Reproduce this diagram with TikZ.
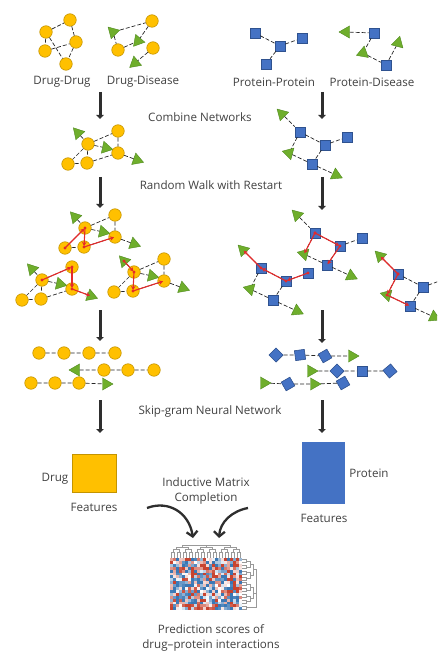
\documentclass[tikz,border=0pt]{standalone}
\usepackage{fontspec}
\setmainfont{Open Sans}
\usetikzlibrary{shapes.geometric,arrows.meta}
\definecolor{dyellow}{HTML}{FFC000}
\definecolor{dyellowd}{HTML}{C49400}
\definecolor{pblue}{HTML}{4472C4}
\definecolor{pblued}{HTML}{2F528F}
\definecolor{dgreen}{HTML}{6FAE2C}
\definecolor{dgreend}{HTML}{4F8A1E}
\definecolor{wred}{HTML}{E42A2A}
\definecolor{darkg}{HTML}{2E2E2E}
\definecolor{txt}{HTML}{404040}
\definecolor{hred}{HTML}{C8432F}
\definecolor{hblue}{HTML}{3A78B5}
\tikzset{
 dc/.style={circle, fill=dyellow, draw=dyellowd, line width=0.6pt, minimum size=12.5pt, inner sep=0},
 ps/.style={rectangle, fill=pblue, draw=pblued, line width=0.6pt, minimum size=10pt, inner sep=0},
 gt/.style={regular polygon, regular polygon sides=3, fill=dgreen, draw=dgreend, line width=0.4pt, minimum size=14pt, inner sep=0},
 lnk/.style={draw=black!85, line width=0.7pt, dash pattern=on 4pt off 2pt},
 walk/.style={draw=wred, line width=1.1pt, shorten >=1pt, -{Stealth[length=4pt,width=4.5pt]}},
 wdot/.style={fill=wred},
 bigarrow/.style={draw=darkg, line width=3pt, -{Triangle[length=4pt,width=7.5pt]}},
 curvarrow/.style={draw=darkg, line width=2.3pt, -{Straight Barb[length=5pt,width=11pt]}},
 lbl/.style={text=txt, font=\fontsize{11.6}{13}\selectfont, inner sep=0},
 dendro/.style={draw=black!40, line width=0.4pt},
}
\newcommand\dnet[3]{%
\begin{scope}[shift={(#2,#3)}]
 \node[gt,rotate=42] (#1t1) at (-10,-11) {};
 \node[dc] (#1c1) at (30,-13) {};
 \node[dc] (#1a) at (0,0) {};
 \node[gt,rotate=-102] (#1t2) at (18,4) {};
 \node[dc] (#1c2) at (30,9) {};
 \node[gt,rotate=-110] (#1t3) at (49,16) {};
 \node[dc] (#1c3) at (-20,20) {};
 \node[dc] (#1c4) at (-1,19) {};
 \draw[lnk] (#1t1)--(#1a) (#1a)--(#1c1) (#1c1)--(#1c2) (#1a)--(#1t2) (#1a)--(#1c3) (#1a)--(#1c4) (#1c3)--(#1c4) (#1c4)--(#1c2) (#1c2)--(#1t3);
\end{scope}}
\newcommand\pnet[3]{%
\begin{scope}[shift={(#2,#3)}]
 \node[gt,rotate=45] (#1t1) at (-18,-18) {};
 \node[ps] (#1s1) at (0,0) {};
 \node[ps] (#1s2) at (25,13) {};
 \node[ps] (#1s3) at (47,5) {};
 \node[gt,rotate=75] (#1t2) at (-11,21) {};
 \node[ps] (#1s4) at (12,32) {};
 \node[gt,rotate=-115] (#1t3) at (36,43) {};
 \draw[lnk] (#1t1)--(#1s1) (#1s1)--(#1s2) (#1s2)--(#1s3) (#1s1)--(#1t2) (#1s2)--(#1s4) (#1t2)--(#1s4) (#1s4)--(#1t3);
\end{scope}}
\newcommand\wstep[2]{\fill[wdot] (#1.center) circle (1.6pt); \draw[walk] (#1.center) -- (#2.center);}
\begin{document}
\begin{tikzpicture}[x=1pt,y=-1pt]
\useasboundingbox (0,0) rectangle (437,652);
\clip (0,0) rectangle (437,652);
% ---------- top: drug-drug
\node[dc] (dd1) at (70,20) {};
\node[dc] (dd2) at (46,32) {};
\node[dc] (dd3) at (76,42) {};
\node[dc] (dd4) at (45,51) {};
\node[dc] (dd5) at (66,64) {};
\draw[lnk] (dd2)--(dd1) (dd1)--(dd3) (dd2)--(dd4) (dd4)--(dd3) (dd2)--(dd5) (dd3)--(dd5);
% drug-disease
\node[gt,rotate=45] (de1) at (113,32) {};
\node[dc] (de2) at (152,21) {};
\node[gt,rotate=-100] (de3) at (138,41) {};
\node[dc] (de4) at (118,50) {};
\node[dc] (de5) at (153,48) {};
\node[gt,rotate=130] (de6) at (135,63) {};
\draw[lnk] (de1)--(de2) (de2)--(de3) (de1)--(de4) (de4)--(de3) (de5)--(de6);
% protein-protein
\node[ps] (pp1) at (255,33) {};
\node[ps] (pp2) at (280,46) {};
\node[ps] (pp3) at (302,38) {};
\node[ps] (pp4) at (266,64) {};
\draw[lnk] (pp1)--(pp2) (pp2)--(pp3) (pp2)--(pp4);
% protein-disease
\node[gt,rotate=90] (pd1) at (346,32) {};
\node[ps] (pd2) at (374,33) {};
\node[gt,rotate=110] (pd3) at (363,53) {};
\node[ps] (pd4) at (386,65) {};
\node[gt,rotate=-15] (pd5) at (398,43) {};
\draw[lnk] (pd1)--(pd2) (pd2)--(pd3) (pd3)--(pd4) (pd4)--(pd5);
% labels
\node[lbl] (l1) at (62,82) {Drug-Drug};
\node[lbl] (l2) at (143,82) {Drug-Disease};
\node[lbl] (l3) at (274,82) {Protein-Protein};
\node[lbl] (l4) at (372,82) {Protein-Disease};
\node[lbl] (l5) at (200,117) {Combine Networks};
\node[lbl] (l6) at (211,185) {Random Walk with Restart};
\node[lbl] (l7) at (210,411) {Skip-gram Neural Network};
% big arrows
\coordinate (a1s) at (100,92); \coordinate (a1e) at (100,119);
\coordinate (a2s) at (100,177); \coordinate (a2e) at (100,208);
\coordinate (a3s) at (100,310); \coordinate (a3e) at (100,341);
\coordinate (a4s) at (100,400); \coordinate (a4e) at (100,433);
\coordinate (b1s) at (322,92); \coordinate (b1e) at (322,119);
\coordinate (b2s) at (322,177); \coordinate (b2e) at (322,210);
\coordinate (b3s) at (322,310); \coordinate (b3e) at (322,343);
\coordinate (b4s) at (322,400); \coordinate (b4e) at (322,433);
\foreach \p in {a1,a2,a3,a4,b1,b2,b3,b4} \draw[bigarrow] (\p s) -- (\p e);
% combined networks
\dnet{cd}{88}{144}
\pnet{cp}{300}{132}
% random walks, drug
\dnet{ra}{85}{228}
\dnet{rb}{42}{280}
\dnet{rc}{134}{272}
\wstep{rac3}{raa}\wstep{raa}{rac4}\wstep{rac4}{rac2}
\wstep{rba}{rbc1}\wstep{rbc1}{rbc2}\wstep{rbc2}{rbt3}
\wstep{rct1}{rca}\wstep{rca}{rcc4}\wstep{rcc4}{rcc2}
% random walks, protein
\pnet{qa}{315}{233}
\pnet{qb}{261}{268}
\pnet{qc}{398}{274}
\wstep{qas1}{qas2}\wstep{qas2}{qas4}\wstep{qas1}{qat2}
\wstep{qbs3}{qbs2}\wstep{qbs2}{qbs1}\wstep{qbs1}{qbt1}
\wstep{qcs1}{qct1}\wstep{qcs1}{qct2}\wstep{qct2}{qcs4}
% skip-gram, drug
\node[dc] (k11) at (39,353) {};
\node[dc] (k12) at (64,353) {};
\node[dc] (k13) at (89,353) {};
\node[dc] (k14) at (115,353) {};
\node[gt,rotate=90] (k21) at (76,370) {};
\node[dc] (k22) at (104,370) {};
\node[dc] (k23) at (128,370) {};
\node[dc] (k24) at (154,370) {};
\node[dc] (k31) at (31,383) {};
\node[dc] (k32) at (55,383) {};
\node[dc] (k33) at (79,383) {};
\node[gt,rotate=-90] (k34) at (106,384) {};
\draw[lnk] (k11)--(k12) (k12)--(k13) (k13)--(k14) (k21)--(k22) (k22)--(k23) (k23)--(k24) (k31)--(k32) (k32)--(k33) (k33)--(k34);
% skip-gram, protein
\node[ps,rotate=45] (m11) at (276,355) {};
\node[ps,rotate=8] (m12) at (300,355) {};
\node[ps,rotate=30] (m13) at (325,356) {};
\node[gt,rotate=-90] (m14) at (352,356) {};
\node[gt,rotate=-90] (m21) at (311,371) {};
\node[ps,rotate=45] (m22) at (337,371) {};
\node[ps] (m23) at (362,371) {};
\node[ps,rotate=40] (m24) at (390,371) {};
\node[gt,rotate=-90] (m31) at (264,383) {};
\node[ps,rotate=30] (m32) at (288,384) {};
\node[gt,rotate=-90] (m33) at (314,384) {};
\node[ps,rotate=30] (m34) at (343,383) {};
\draw[lnk] (m11)--(m12) (m12)--(m13) (m13)--(m14) (m21)--(m22) (m22)--(m23) (m23)--(m24) (m31)--(m32) (m32)--(m33) (m33)--(m34);
% features
\node[rectangle, fill=dyellow, draw=dyellowd, line width=0.6pt, minimum width=44pt, minimum height=38pt, inner sep=0] (dfeat) at (94,473) {};
\node[rectangle, fill=pblue, minimum width=43pt, minimum height=62pt, inner sep=0] (pfeat) at (323.5,473) {};
\node[lbl] (dl) at (55,479) {Drug};
\node[lbl] (df) at (94,507) {Features};
\node[lbl] (pl) at (369,473) {Protein};
\node[lbl] (pf) at (324,518) {Features};
\node[lbl] (imc1) at (206,482) {Inductive Matrix};
\node[lbl] (imc2) at (206,498) {Completion};
% curved arrows
\coordinate (cl1) at (147,508); \coordinate (cl2) at (193,538);
\coordinate (cr1) at (248,508); \coordinate (cr2) at (219,538);
\draw[curvarrow] (cl1) .. controls (168,500) and (189,512) .. (cl2);
\draw[curvarrow] (cr1) .. controls (232,511) and (220,522) .. (cr2);
% heatmap
\pgfmathsetseed{11}
\foreach \i in {0,...,23}{
 \foreach \j in {0,...,17}{
  \pgfmathtruncatemacro\r{max(-100,min(100,300*rnd-150))}
  \ifnum\r<0 \pgfmathtruncatemacro\r{-\r}\def\hc{hblue}\else\def\hc{hred}\fi
  \fill[\hc!\r!white] (170+\i*3, 558+\j*2.9) rectangle ++(3.05,2.95);
 }
}
% top dendrogram
\foreach \k in {0,...,11}{
 \pgfmathsetmacro\xa{171.5+6*\k}
 \pgfmathsetmacro\xb{\xa+3}
 \draw[dendro] (\xa,558) |- (\xb,552) -- (\xb,558);
}
\foreach \k in {0,...,5}{
 \pgfmathsetmacro\xa{173+12*\k}
 \pgfmathsetmacro\xb{\xa+6}
 \draw[dendro] (\xa,552) |- (\xb,549.5) -- (\xb,552);
}
\foreach \k in {0,1,2}{
 \pgfmathsetmacro\xa{176+24*\k}
 \pgfmathsetmacro\xb{\xa+12}
 \draw[dendro] (\xa,549.5) |- (\xb,547.5) -- (\xb,549.5);
}
\draw[dendro] (182,547.5) |- (230,545.5) -- (230,547.5) (206,547.5) -- (206,545.5);
% right dendrogram
\foreach \k in {0,...,8}{
 \pgfmathsetmacro\ya{559.45+5.8*\k}
 \pgfmathsetmacro\yb{\ya+2.9}
 \draw[dendro] (242,\ya) -| (246.5,\yb) -- (242,\yb);
}
\foreach \k in {0,...,3}{
 \pgfmathsetmacro\ya{560.9+11.6*\k}
 \pgfmathsetmacro\yb{\ya+5.8}
 \draw[dendro] (246.5,\ya) -| (250,\yb) -- (246.5,\yb);
}
\draw[dendro] (250,563.8) -| (253,575.4) -- (250,575.4);
\draw[dendro] (250,587) -| (253,598.6) -- (250,598.6);
\draw[dendro] (253,569.6) -| (256,592.8) -- (253,592.8);
\draw[dendro] (246.5,607.3) -| (256,592.8);
% bottom text
\node[lbl] (ps1) at (211,629) {Prediction scores of};
\node[lbl] (ps2) at (211,645) {drug–protein interactions};
\end{tikzpicture}
\end{document}
